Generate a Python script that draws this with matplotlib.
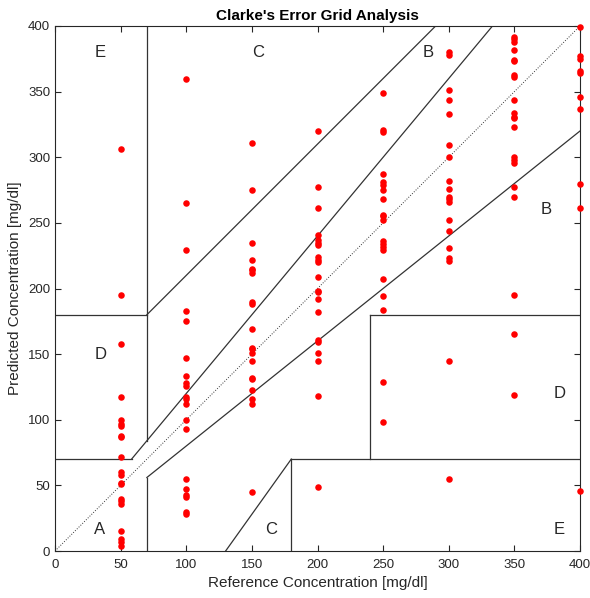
import numpy as np
import matplotlib
matplotlib.use("Agg")
import matplotlib.pyplot as plt

plt.rcParams['font.family'] = ['Liberation Sans', 'DejaVu Sans']

# Reference / predicted pairs
ref_50 = [306, 195, 158, 117, 100, 97, 95, 88, 87, 72, 60, 58, 52, 51, 40, 38, 36, 15, 9, 7, 4]
ref_100 = [360, 265, 229, 183, 175, 147, 133, 128, 126, 117, 116, 112, 100, 93, 55, 47, 43, 41, 30, 28]
ref_150 = [311, 275, 235, 222, 215, 214, 212, 190, 188, 169, 155, 154, 151, 145, 132, 131, 123, 116, 112, 45]
ref_200 = [320, 277, 261, 241, 237, 235, 233, 224, 222, 220, 209, 198, 197, 192, 182, 161, 159, 151, 145, 118, 49]
ref_250 = [349, 321, 319, 287, 281, 279, 275, 268, 256, 255, 252, 236, 234, 232, 229, 207, 194, 184, 129, 98]
ref_300 = [380, 378, 351, 344, 333, 309, 300, 282, 276, 270, 268, 266, 252, 244, 231, 223, 221, 145, 55]
ref_350 = [392, 390, 388, 382, 374, 373, 363, 361, 344, 334, 331, 330, 323, 300, 298, 296, 277, 270, 195, 165, 119]
ref_400 = [399, 377, 375, 366, 364, 346, 337, 280, 261, 46]

columns = {50: ref_50, 100: ref_100, 150: ref_150, 200: ref_200,
           250: ref_250, 300: ref_300, 350: ref_350, 400: ref_400}

ref = np.concatenate([[k] * len(v) for k, v in columns.items()])
pred = np.concatenate([v for v in columns.values()])

fig = plt.figure(figsize=(5.9, 5.98), dpi=100)
ax = fig.add_axes([55 / 590, 47 / 598, 525 / 590, 525 / 598])

ax.plot(ref, pred, 'o', color='red', markersize=4.7, markeredgewidth=0, zorder=3, clip_on=False)

# Zone boundaries
lc = '0.2'
lw = 0.9
ax.plot([0, 400], [0, 400], ':', color=lc, lw=0.7)
ax.plot([0, 175 / 3], [70, 70], '-', color=lc, lw=lw)
ax.plot([175 / 3, 400 / 1.2], [70, 400], '-', color=lc, lw=lw)
ax.plot([70, 70], [84, 400], '-', color=lc, lw=lw)
ax.plot([0, 70], [180, 180], '-', color=lc, lw=lw)
ax.plot([70, 290], [180, 400], '-', color=lc, lw=lw)
ax.plot([70, 70], [0, 56], '-', color=lc, lw=lw)
ax.plot([70, 400], [56, 320], '-', color=lc, lw=lw)
ax.plot([180, 180], [0, 70], '-', color=lc, lw=lw)
ax.plot([180, 400], [70, 70], '-', color=lc, lw=lw)
ax.plot([240, 240], [70, 180], '-', color=lc, lw=lw)
ax.plot([240, 400], [180, 180], '-', color=lc, lw=lw)
ax.plot([130, 180], [0, 70], '-', color=lc, lw=lw)

# Zone labels
labels = [('A', 30, 16), ('B', 370, 260), ('B', 280, 380), ('C', 150, 380), ('C', 160, 16),
          ('D', 30, 150), ('D', 380, 120), ('E', 30, 380), ('E', 380, 16)]
for t, x, y in labels:
    ax.text(x, y, t, fontsize=12, color='0.15', va='center', ha='left')

ax.set_xlim(0, 400)
ax.set_ylim(0, 400)
ax.set_xticks(range(0, 401, 50))
ax.set_yticks(range(0, 401, 50))
ax.tick_params(direction='in', top=True, right=True, labelsize=9.5, colors='0.15', length=4)
ax.tick_params(axis='x', pad=6)
for s in ax.spines.values():
    s.set_color('0.15')
    s.set_linewidth(0.8)

ax.set_xlabel('Reference Concentration [mg/dl]', fontsize=11, color='0.15', labelpad=3)
ax.set_ylabel('Predicted Concentration [mg/dl]', fontsize=11, color='0.15')
ax.set_title("Clarke's Error Grid Analysis", fontsize=11, fontweight='bold', pad=4)

fig.savefig('out.png', dpi=100)
